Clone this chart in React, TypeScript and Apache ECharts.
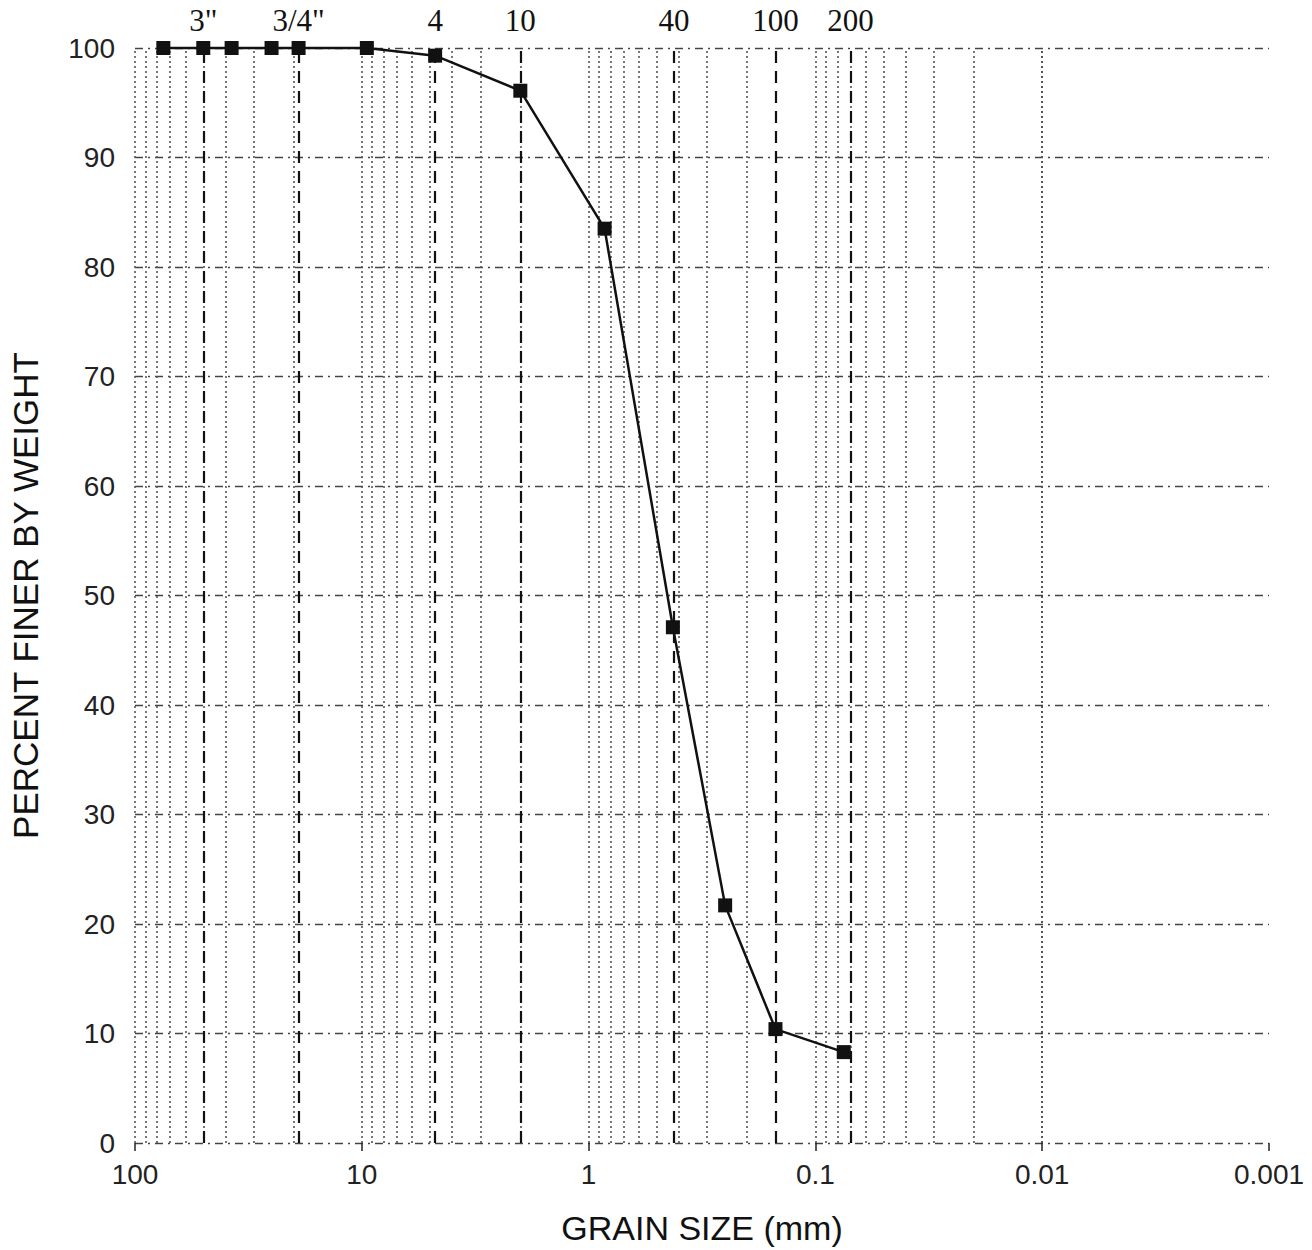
import React, { useEffect, useRef } from "react";
import * as echarts from "echarts";

// Sieve analysis data (grain size in mm, percent finer by weight)
const grainSizes = [75, 50, 37.5, 25, 19, 9.5, 4.75, 2.0, 0.85, 0.425, 0.25, 0.15, 0.075];
const percentFiner = [100, 100, 100, 100, 100, 100, 99.3, 96.1, 83.5, 47.1, 21.7, 10.4, 8.3];

// Sieve marker lines along the top
const sieveSizes = [50, 19, 4.75, 2.0, 0.425, 0.15, 0.075];
const sieveLabels = ['3"', '3/4"', "4", "10", "40", "100", "200"];

// Log grid: decades and multipliers
const gridDecades = [0.001, 0.01, 0.1, 1, 10];
const gridMultipliers = [1, 2, 3, 4, 5, 6, 7, 8, 9];

// Tick labels
const xTickValues = [100, 10, 1, 0.1, 0.01, 0.001];
const xTickLabels = ["100", "10", "1", "0.1", "0.01", "0.001"];

export default function App() {
  const ref = useRef<HTMLDivElement>(null);

  useEffect(() => {
    document.body.style.margin = "0";
    if (!ref.current) return;
    const chart = echarts.init(ref.current, null, { renderer: "svg" });

    const gridLines: { xAxis: number }[] = [];
    gridDecades.forEach((d) =>
      gridMultipliers.forEach((m) => gridLines.push({ xAxis: +(d * m).toPrecision(6) }))
    );
    gridLines.push({ xAxis: 100 });

    const sans = "Liberation Sans, Arial, sans-serif";
    const serif = "Liberation Serif, Times New Roman, serif";

    chart.setOption({
      animation: false,
      backgroundColor: "#ffffff",
      grid: { left: 133, right: 43, top: 48, bottom: 104, containLabel: false },
      xAxis: {
        type: "log",
        logBase: 10,
        min: 0.001,
        max: 100,
        inverse: true,
        name: "GRAIN SIZE (mm)",
        nameLocation: "middle",
        nameGap: 68,
        nameTextStyle: { fontFamily: sans, fontSize: 34, color: "#111" },
        axisLine: { show: false },
        axisTick: { show: true, length: 8, inside: false, lineStyle: { color: "#222", width: 1.5 } },
        axisLabel: {
          margin: 17,
          fontFamily: sans,
          fontSize: 28,
          color: "#222",
          formatter: (v: number) => {
            let best = 0;
            xTickValues.forEach((t, i) => {
              if (Math.abs(Math.log10(t) - Math.log10(v)) < Math.abs(Math.log10(xTickValues[best]) - Math.log10(v))) best = i;
            });
            return xTickLabels[best];
          },
        },
        splitLine: { show: false },
        minorTick: { show: false },
      },
      yAxis: {
        type: "value",
        min: 0,
        max: 100,
        interval: 10,
        name: "PERCENT FINER BY WEIGHT",
        nameLocation: "middle",
        nameGap: 92,
        nameRotate: 90,
        nameTextStyle: { fontFamily: sans, fontSize: 35, color: "#111" },
        axisLine: { show: false },
        axisTick: { show: false },
        axisLabel: { margin: 20, fontFamily: sans, fontSize: 28, color: "#222" },
        splitLine: {
          show: true,
          lineStyle: { color: "#444", width: 1.3, type: [8, 5, 2, 5] },
        },
      },
      series: [
        {
          type: "line",
          data: [],
          silent: true,
          markLine: {
            silent: true,
            symbol: ["none", "none"],
            label: { show: false },
            lineStyle: { color: "#555", width: 1.6, type: [2, 3] },
            data: gridLines,
          },
        },
        {
          type: "line",
          data: [],
          silent: true,
          markLine: {
            silent: true,
            symbol: ["none", "none"],
            label: {
              show: true,
              position: "end",
              distance: 12,
              formatter: (p: any) => p.name,
              fontFamily: serif,
              fontSize: 31,
              color: "#111",
            },
            lineStyle: { color: "#111", width: 2.2, type: [12, 8] },
            data: sieveSizes.map((s, i) => ({ xAxis: s, name: sieveLabels[i] })),
          },
        },
        {
          type: "line",
          clip: false,
          data: grainSizes.map((g, i) => [g, percentFiner[i]]),
          symbol: "rect",
          symbolSize: 14,
          itemStyle: { color: "#111" },
          lineStyle: { color: "#111", width: 2.5 },
          z: 5,
        },
      ],
    });

    return () => chart.dispose();
  }, []);

  return <div ref={ref} style={{ width: 1312, height: 1250 }} />;
}
